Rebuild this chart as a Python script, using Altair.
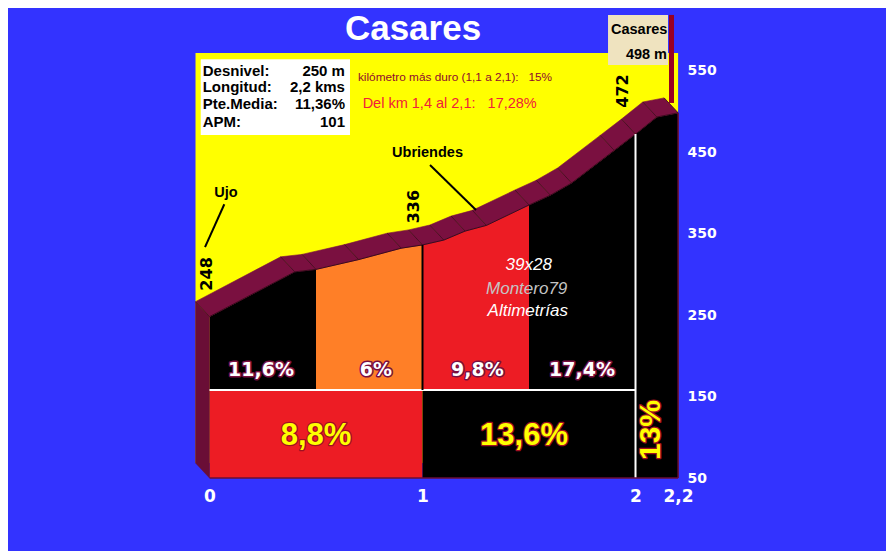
import altair as alt
import pandas as pd

# ---------------- data ----------------
KM = [0, 0.4, 0.5, 0.7, 0.9, 1.0, 1.1, 1.2, 1.3, 1.5, 1.6, 1.7, 1.9, 2.0, 2.1, 2.2]
ELEV = [248, 303, 306, 318, 332, 336, 342, 353, 360, 385, 397, 412, 452, 472, 493, 498]

SEG_START = [0, 0.5, 1.0, 1.5, 2.0]
SEG_END = [0.5, 1.0, 1.5, 2.0, 2.2]
SEG_NAME = ["s1", "s2", "s3", "s4", "s5"]
SEG_LABEL = ["11,6%", "6%", "9,8%", "17,4%"]
SEG_COLOR = ["#000000", "#ff7f27", "#ed1c24", "#000000", "#000000"]

KM_START = [0, 1, 2]
KM_END = [1, 2, 2.2]
KM_LABEL = ["8,8%", "13,6%", "13%"]
KM_COLOR = ["#ed1c24", "#000000", "#000000"]

INFO_KEYS = ["Desnivel:", "Longitud:", "Pte.Media:", "APM:"]
INFO_VALUES = ["250 m", "2,2 kms", "11,36%", "101"]

ELEV_LABEL_TEXT = ["248", "336", "472"]
PLACE_NAMES = ["Ujo", "Ubriendes"]
HARDEST = "kilómetro más duro (1,1 a 2,1):\u00a0\u00a0 15%"
STRETCH = "Del km 1,4 al 2,1:\u00a0\u00a0 17,28%"
CREDITS = ["39x28", "Montero79", "Altimetrías"]
SUMMIT = ["Casares", "498 m"]
TITLE = "Casares"

Y_TICKS = [50, 150, 250, 350, 450, 550]
X_TICKS = [0, 1, 2, 2.2]

# ---------------- layout / style ----------------
W, H = 484, 425
X_DOMAIN = [-0.0634, 2.2089]
Y_DOMAIN = [50, 571.5]
DX, DY = 0.0657, 18.4
BASE, BAND_TOP = 50, 158
MAROON = "#7a1040"
MAROON_DARK = "#6a0e36"
EDGE = "#3a0820"
ARIAL = "Liberation Sans, Arial, sans-serif"
DEJAVU = "DejaVu Sans, sans-serif"

xscale = alt.Scale(domain=X_DOMAIN, nice=False, zero=False)
yscale = alt.Scale(domain=Y_DOMAIN, nice=False, zero=False)
xaxis = alt.Axis(values=X_TICKS, labelExpr="replace(format(datum.value, '.1~f'), '.', ',')",
                 title=None, grid=False, domain=False, ticks=False, tickSize=0,
                 labelPadding=10, labelFontSize=17, labelFont=DEJAVU, labelFontWeight="bold",
                 labelColor="white", labelFlush=False)
yaxis = alt.Axis(values=Y_TICKS, orient="right", title=None, grid=False, domain=False,
                 ticks=False, tickSize=0, labelPadding=7, labelFontSize=14, labelFont=DEJAVU,
                 labelFontWeight="bold", labelColor="white", labelAlign="left",
                 labelBaseline="middle")


def X(f="x"):
    return alt.X(f"{f}:Q", scale=xscale, axis=xaxis)


def Y(f="e"):
    return alt.Y(f"{f}:Q", scale=yscale, axis=yaxis, stack=None)


# ---------------- tables built from the data ----------------
area_rows = []
for name, a, b in zip(SEG_NAME, SEG_START, SEG_END):
    for k, e in zip(KM, ELEV):
        if a - 1e-9 <= k <= b + 1e-9:
            area_rows.append({"seg": name, "x": k, "e": e, "base": BAND_TOP})
area_df = pd.DataFrame(area_rows)

bottom_df = pd.DataFrame({"x": KM_START, "x2": KM_END, "c": KM_COLOR,
                          "e": [BASE] * 3, "e2": [BAND_TOP] * 3})

band_rows = []
for i in range(len(KM) - 1):
    x0, x1, e0, e1 = KM[i], KM[i + 1], ELEV[i], ELEV[i + 1]
    pts = [(x0, e0), (x1, e1), (x1 - DX, e1 + DY), (x0 - DX, e0 + DY)]
    for j, (px, pe) in enumerate(pts):
        band_rows.append({"seg": i, "ord": j, "x": px, "e": pe})
band_df = pd.DataFrame(band_rows)

left_df = pd.DataFrame({"seg": [0] * 4, "ord": [0, 1, 2, 3],
                        "x": [0, 0, -DX, -DX],
                        "e": [ELEV[0], BASE, BASE + DY, ELEV[0] + DY]})

sep_df = pd.DataFrame({"x": KM, "e": ELEV,
                       "x2": [k - DX for k in KM], "e2": [e + DY for e in ELEV]})
profile_df = pd.DataFrame({"x": KM, "e": ELEV})

e_at = dict(zip(KM, ELEV))

# ---------------- layers ----------------
layers = []

# yellow back wall
wall = pd.DataFrame({"x": [-DX], "x2": [KM[-1]], "e": [BASE + DY], "e2": [Y_DOMAIN[1]]})
layers.append(alt.Chart(wall).mark_rect(fill="#ffff00").encode(
    x=X(), x2="x2:Q", y=Y(), y2="e2:Q"))

# info box
info_box = pd.DataFrame({"x": [-0.0413], "x2": [0.6596], "e": [470.9], "e2": [563.8]})
layers.append(alt.Chart(info_box).mark_rect(fill="white").encode(
    x=X(), x2="x2:Q", y=Y(), y2="e2:Q"))

# summit sign pole and board
pole = pd.DataFrame({"x": [2.169], "e": [510.2], "e2": [618.2]})
layers.append(alt.Chart(pole).mark_rule(stroke="#990022", strokeWidth=5).encode(
    x=X(), y=Y(), y2="e2:Q"))
board = pd.DataFrame({"x": [1.871], "x2": [2.1526], "e": [556.9], "e2": [618.2]})
layers.append(alt.Chart(board).mark_rect(fill="#efe3bf").encode(
    x=X(), x2="x2:Q", y=Y(), y2="e2:Q"))

# bottom km band
layers.append(alt.Chart(bottom_df).mark_rect().encode(
    x=X(), x2="x2:Q", y=Y(), y2="e2:Q",
    color=alt.Color("c:N", scale=None)))

# gradient segments
layers.append(alt.Chart(area_df).mark_area(interpolate="linear").encode(
    x=X(), y=Y(), y2="base:Q",
    color=alt.Color("seg:N", scale=alt.Scale(domain=SEG_NAME, range=SEG_COLOR), legend=None)))

# left face
layers.append(alt.Chart(left_df).mark_line(filled=True, fill=MAROON_DARK, stroke=MAROON_DARK,
                                           strokeWidth=0.5).encode(
    x=X(), y=Y(), detail="seg:N", order="ord:Q"))

# 3D top band
layers.append(alt.Chart(band_df).mark_line(filled=True, fill=MAROON, stroke=MAROON,
                                           strokeWidth=0.6).encode(
    x=X(), y=Y(), detail="seg:N", order="ord:Q"))
layers.append(alt.Chart(sep_df).mark_rule(stroke=EDGE, strokeWidth=0.8).encode(
    x=X(), x2="x2:Q", y=Y(), y2="e2:Q"))
layers.append(alt.Chart(profile_df).mark_line(stroke=EDGE, strokeWidth=1).encode(
    x=X(), y=Y()))

# white division lines
hline = pd.DataFrame({"x": [0], "x2": [2.0], "e": [BAND_TOP]})
layers.append(alt.Chart(hline).mark_rule(stroke="white", strokeWidth=2).encode(
    x=X(), x2="x2:Q", y=Y()))
vline = pd.DataFrame({"x": [2.0], "e": [BASE], "e2": [e_at[2.0]]})
layers.append(alt.Chart(vline).mark_rule(stroke="white", strokeWidth=2).encode(
    x=X(), y=Y(), y2="e2:Q"))
bline = pd.DataFrame({"x": [1.0], "e": [BAND_TOP], "e2": [e_at[1.0]]})
layers.append(alt.Chart(bline).mark_rule(stroke="black", strokeWidth=2).encode(
    x=X(), y=Y(), y2="e2:Q"))

# block edges
bottom_edge = pd.DataFrame({"x": [0], "x2": [2.2], "e": [BASE]})
layers.append(alt.Chart(bottom_edge).mark_rule(stroke=MAROON_DARK, strokeWidth=1.5).encode(
    x=X(), x2="x2:Q", y=Y()))
right_edge = pd.DataFrame({"x": [2.2], "e": [BASE], "e2": [e_at[2.2]]})
layers.append(alt.Chart(right_edge).mark_rule(stroke=MAROON_DARK, strokeWidth=1.5).encode(
    x=X(), y=Y(), y2="e2:Q"))

# pointer lines
pointers = pd.DataFrame({"x": [0.0695, 1.0352], "e": [385.9, 434.1],
                         "x2": [-0.0211, 1.2512], "e2": [333.2, 378.9]})
layers.append(alt.Chart(pointers).mark_rule(stroke="black", strokeWidth=2).encode(
    x=X(), x2="x2:Q", y=Y(), y2="e2:Q"))


def text_layer(df, **mark):
    return alt.Chart(df).mark_text(**mark).encode(x=X(), y=Y(), text="t:N")


# title
layers.append(text_layer(pd.DataFrame({"x": [0.9554], "e": [587.5], "t": [TITLE]}),
                         font=ARIAL, fontWeight="bold", fontSize=35, color="white",
                         baseline="alphabetic"))

# info table
info_e = [549.8, 529.5, 509.0, 487.3]
layers.append(text_layer(pd.DataFrame({"x": [-0.0319] * 4, "e": info_e, "t": INFO_KEYS}),
                         font=ARIAL, fontWeight="bold", fontSize=15, color="black",
                         align="left", baseline="middle"))
layers.append(text_layer(pd.DataFrame({"x": [0.636] * 4, "e": info_e, "t": INFO_VALUES}),
                         font=ARIAL, fontWeight="bold", fontSize=15, color="black",
                         align="right", baseline="middle"))

# hardest km notes
layers.append(text_layer(pd.DataFrame({"x": [0.697], "e": [542.1], "t": [HARDEST]}),
                         font=ARIAL, fontSize=11.8, color="#8e0a2e",
                         align="left", baseline="middle"))
layers.append(text_layer(pd.DataFrame({"x": [0.719], "e": [509.2], "t": [STRETCH]}),
                         font=ARIAL, fontSize=14.5, color="#f0203a",
                         align="left", baseline="middle"))

# summit board text
layers.append(text_layer(pd.DataFrame({"x": [2.0174], "e": [599.2], "t": [SUMMIT[0]]}),
                         font=ARIAL, fontWeight="bold", fontSize=14.5, color="black",
                         baseline="middle"))
layers.append(text_layer(pd.DataFrame({"x": [2.148], "e": [569.1], "t": [SUMMIT[1]]}),
                         font=ARIAL, fontWeight="bold", fontSize=14.5, color="black",
                         align="right", baseline="middle"))

# rotated elevations
layers.append(text_layer(pd.DataFrame({"x": [-0.0141, 0.960, 1.939],
                                       "e": [300.4, 383.0, 524.9], "t": ELEV_LABEL_TEXT}),
                         font=DEJAVU, fontWeight="bold", fontSize=16, color="black",
                         angle=270, baseline="middle"))

# place names
layers.append(text_layer(pd.DataFrame({"x": [0.0775, 1.0235], "e": [400.1, 448.9],
                                       "t": PLACE_NAMES}),
                         font=ARIAL, fontWeight="bold", fontSize=14.5, color="black",
                         baseline="middle"))

# credits
layers.append(text_layer(pd.DataFrame({"x": [1.4986, 1.494], "e": [310.8, 254.4],
                                       "t": [CREDITS[0], CREDITS[2]]}),
                         font=ARIAL, fontStyle="italic", fontSize=17, color="white",
                         baseline="middle"))
layers.append(text_layer(pd.DataFrame({"x": [1.489], "e": [282.0], "t": [CREDITS[1]]}),
                         font=ARIAL, fontStyle="italic", fontSize=17, color="#c4c4c4",
                         baseline="middle"))

# segment gradient labels
seg_lab = pd.DataFrame({"x": [0.2418, 0.781, 1.258, 1.749], "e": [182.6] * 4, "t": SEG_LABEL})
layers.append(text_layer(seg_lab, font=DEJAVU, fontWeight="bold", fontSize=19,
                         fill="white", stroke=MAROON, strokeWidth=3, strokeJoin="round",
                         baseline="middle"))
layers.append(text_layer(seg_lab, font=DEJAVU, fontWeight="bold", fontSize=19,
                         fill="white", baseline="middle"))

# km gradient labels
km_lab = pd.DataFrame({"x": [0.5, 1.4765], "e": [101.6, 101.6], "t": KM_LABEL[:2]})
layers.append(text_layer(km_lab, font=ARIAL, fontWeight="bold", fontSize=31,
                         fill="#ffff00", stroke="#a01020", strokeWidth=2.5, strokeJoin="round",
                         baseline="middle"))
layers.append(text_layer(km_lab, font=ARIAL, fontWeight="bold", fontSize=31,
                         fill="#ffff00", baseline="middle"))
km_lab2 = pd.DataFrame({"x": [2.0728], "e": [108.9], "t": KM_LABEL[2:]})
layers.append(text_layer(km_lab2, font=ARIAL, fontWeight="bold", fontSize=30,
                         fill="#ffff00", stroke="#a01020", strokeWidth=2.5, strokeJoin="round",
                         angle=270, baseline="middle"))
layers.append(text_layer(km_lab2, font=ARIAL, fontWeight="bold", fontSize=30,
                         fill="#ffff00", angle=270, baseline="middle"))

chart = alt.layer(*layers).properties(
    width=W, height=H,
    padding={"left": 188, "top": 45, "right": 206, "bottom": 73},
    autosize=alt.AutoSizeParams(type="none"),
    background="#3333ff",
).configure_view(stroke=None)

chart.save("out.html", embed_options={"renderer": "svg", "actions": False})
